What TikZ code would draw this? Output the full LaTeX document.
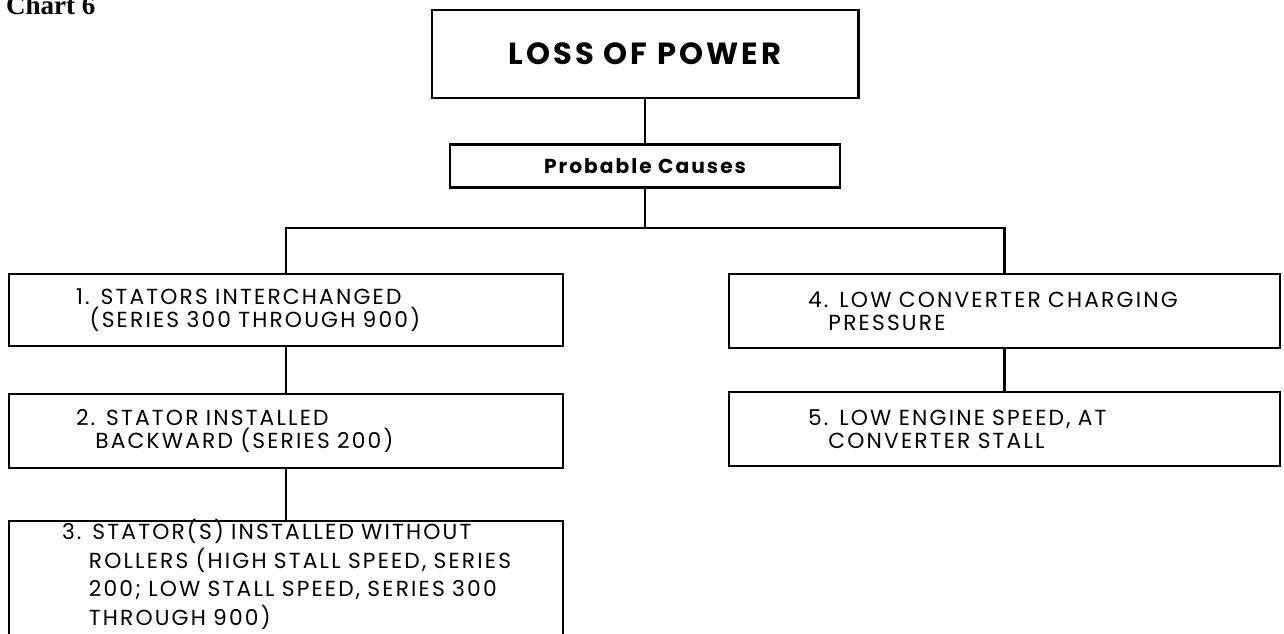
\documentclass[tikz,border=0pt]{standalone}
\usepackage{fontspec}
\setmainfont{Liberation Serif}
\newfontfamily\futura[LetterSpace=10]{Poppins}
\usetikzlibrary{positioning}

\begin{document}
\begin{tikzpicture}[
    line width=1.2pt,
    head/.style={rectangle, draw, line width=1.7pt, minimum width=8.52cm, minimum height=1.76cm, font=\futura\bfseries\fontsize{17.4}{20}\selectfont},
    sub/.style={rectangle, draw, minimum width=7.8cm, minimum height=0.86cm, font=\futura\bfseries\fontsize{11.5}{14}\selectfont},
    cause/.style={rectangle, draw, align=left, minimum height=1.48cm, font=\futura\fontsize{12.4}{13.4}\selectfont},
    leftcause/.style={cause, minimum width=11.08cm, inner xsep=1.34cm, text width=8.4cm},
    rightcause/.style={cause, minimum width=11.02cm, inner xsep=1.58cm, text width=7.86cm},
    link/.style={line width=1.5pt}
]
\useasboundingbox (0,0) rectangle (25.68,-12.68);
\node[anchor=base west, inner sep=0, font=\bfseries\fontsize{15.4}{17}\selectfont] (title) at (0.1,-0.3) {Chart 6};
\node[head] (loss) at (12.9,-1.08) {LOSS OF POWER};
\node[sub, below=0.88cm of loss] (causes) {Probable Causes};
\coordinate (bus) at (12.9,-4.56);
\node[leftcause, anchor=north, minimum height=1.44cm] (c1) at (5.72,-5.46) {1. STATORS INTERCHANGED\\\phantom{1.}(SERIES 300 THROUGH 900)};
\node[leftcause, below=0.92cm of c1] (c2) {2. STATOR INSTALLED\\\phantom{2.}BACKWARD (SERIES 200)};
\node[leftcause, below=1.02cm of c2, inner ysep=0.03cm, text height=0.34cm, text depth=2.3cm, inner xsep=1.06cm, text width=8.96cm, font=\futura\fontsize{12.4}{16.2}\selectfont] (c3) {3. STATOR(S) INSTALLED WITHOUT\\\phantom{3.\ }ROLLERS (HIGH STALL SPEED, SERIES\\\phantom{3.\ }200; LOW STALL SPEED, SERIES 300\\\phantom{3.\ }THROUGH 900)};
\node[rightcause, anchor=north] (c4) at (20.09,-5.46) {4. LOW CONVERTER CHARGING\\\phantom{4.}PRESSURE};
\node[rightcause, below=0.84cm of c4] (c5) {5. LOW ENGINE SPEED, AT\\\phantom{5.}CONVERTER STALL};

\draw[link] (loss) -- (causes);
\draw[link] (causes) -- (causes |- bus);
\draw[line width=1.7pt] (c1) |- (bus) -| (c4);
\draw[link] (c1) -- (c2);
\draw[link] (c2) -- (c3);
\draw[link] (c4) -- (c5);
\end{tikzpicture}
\end{document}
